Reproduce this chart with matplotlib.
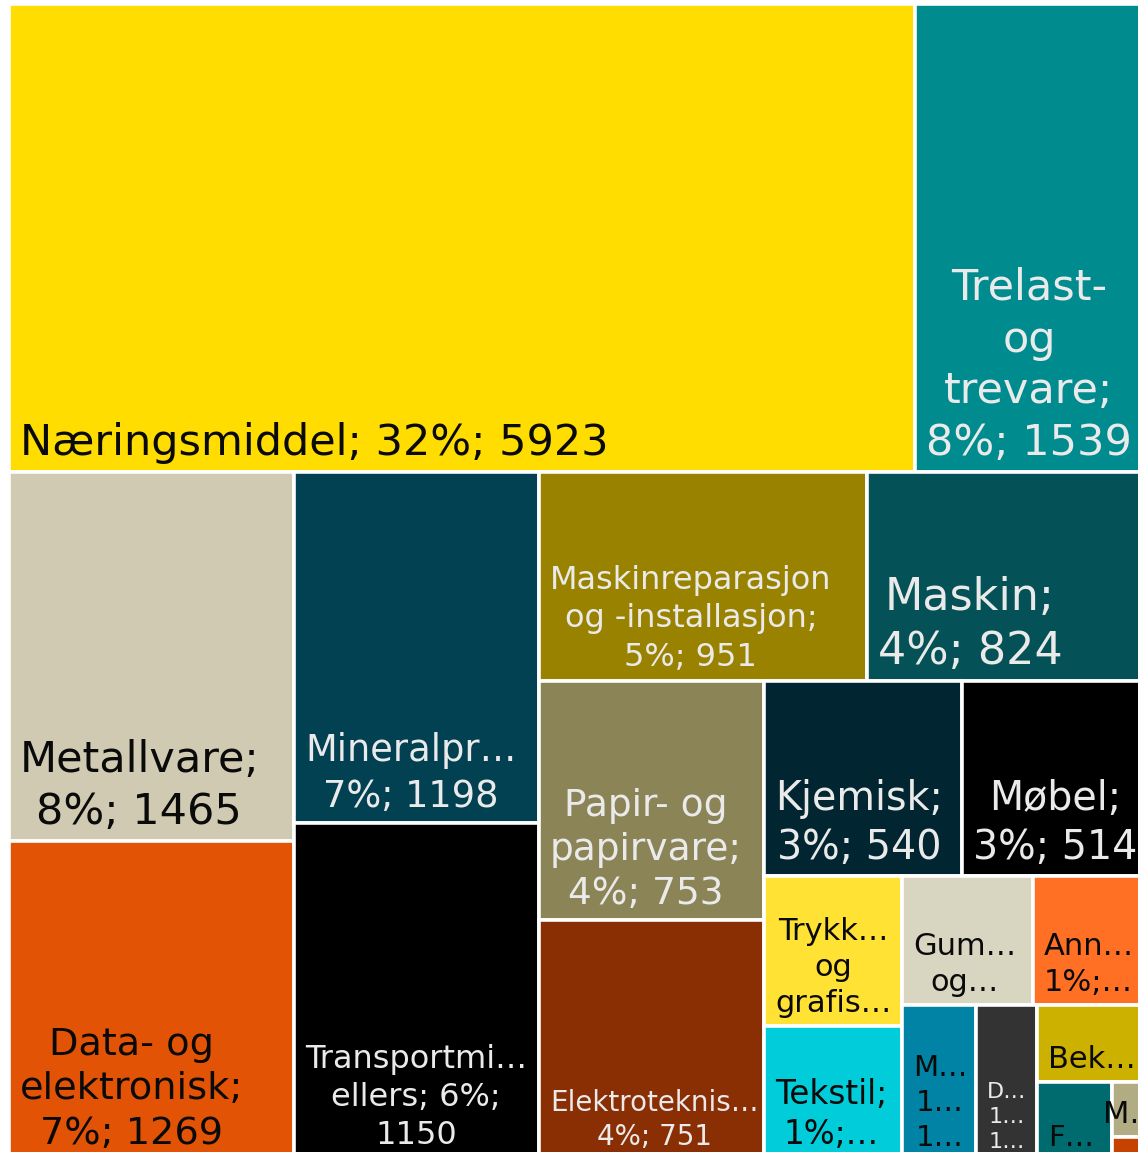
import matplotlib
matplotlib.use("Agg")
import matplotlib.pyplot as plt
from matplotlib.patches import Rectangle

# ---- data ----
categories = ["Næringsmiddel", "Trelast- og trevare", "Metallvare", "Data- og elektronisk",
              "Mineralprodukt", "Transportmidler ellers", "Maskinreparasjon og -installasjon",
              "Maskin", "Papir- og papirvare", "Elektroteknisk", "Kjemisk", "Møbel",
              "Trykkeri og grafisk", "Tekstil", "Gummi og plast", "Annen", "Metaller",
              "Drikkevare", "Bekledning", "Farmasøytisk", "Maritim", "Øvrige"]
values = [5923, 1539, 1465, 1269, 1198, 1150, 951, 824, 753, 751, 540, 514,
          286, 256, 234, 211, 159, 133, 121, 81, 30, 12]
labels = ["Næringsmiddel; 32%; 5923", "Trelast-\nog\ntrevare;\n8%; 1539",
          "Metallvare;\n8%; 1465", "Data- og\nelektronisk;\n7%; 1269",
          "Mineralpr…\n7%; 1198", "Transportmi…\nellers; 6%;\n1150",
          "Maskinreparasjon\nog -installasjon;\n5%; 951", "Maskin;\n4%; 824",
          "Papir- og\npapirvare;\n4%; 753", "Elektroteknis…\n4%; 751",
          "Kjemisk;\n3%; 540", "Møbel;\n3%; 514", "Trykk…\nog\ngrafis…",
          "Tekstil;\n1%;…", "Gum…\nog…", "Ann…\n1%;…", "M…\n1…\n1…",
          "D…\n1…\n1…", "Bek…", "F…", "M…", ""]

# ---- styles ----
colors = ["#FFDD00", "#008B8F", "#CFCAB1", "#E25306", "#024152", "#000000",
          "#998200", "#045257", "#8B8457", "#8A2E03", "#012631", "#000000",
          "#FFE234", "#00CDD9", "#D8D5C1", "#FF6F24", "#0083A5", "#333333",
          "#CCB100", "#006B6F", "#B2AC85", "#C64200"]
dark_text = "#0a0a0a"
light_text = "#eaeaea"
text_colors = [dark_text, light_text, dark_text, dark_text, light_text, light_text,
               light_text, light_text, light_text, light_text, light_text, light_text,
               dark_text, dark_text, dark_text, dark_text, dark_text, light_text,
               dark_text, dark_text, dark_text, dark_text]
font_sizes = [31, 31, 31, 27.5, 26.5, 23, 23, 32, 27, 20, 28.5, 28.5,
              22, 23.5, 22, 22, 21, 16, 22, 21, 22, 10]
group_sizes = [2, 2, 2, 2, 2, 2, 2, 2, 1, 1, 1, 1, 1, 1]

W, H = 1142.0, 1156.0


def layout(vals, groups, x, y, w, h):
    rects = []
    remaining = float(sum(vals))
    i = 0
    for g in groups:
        grp = vals[i:i + g]
        s = float(sum(grp))
        if w >= h:  # vertical strip on the left
            sw = w * s / remaining
            yy = y
            for v in grp:
                hh = h * v / s
                rects.append((x, yy, sw, hh))
                yy += hh
            x += sw
            w -= sw
        else:  # horizontal strip on top
            sh = h * s / remaining
            xx = x
            for v in grp:
                ww = w * v / s
                rects.append((xx, y, ww, sh))
                xx += ww
            y += sh
            h -= sh
        remaining -= s
        i += g
    return rects


rects = layout(values, group_sizes, 0.0, 0.0, W, H)

fig = plt.figure(figsize=(11.38, 11.52), dpi=100)
ax = fig.add_axes([0, 0, 1, 1])
ax.set_xlim(-8.5, -8.5 + 1138)
ax.set_ylim(-3.5 + 1152, -3.5)
ax.axis("off")

for k, (rx, ry, rw, rh) in enumerate(rects):
    ax.add_patch(Rectangle((rx, ry), rw, rh, facecolor=colors[k],
                           edgecolor="white", linewidth=2.6))
    if labels[k]:
        if k == 20:
            tx, ha = rx + rw / 2, "center"
        else:
            tx, ha = rx + 11, "left"
        ax.text(tx, ry + rh - 8, labels[k], ha=ha, va="bottom",
                multialignment="center", fontsize=font_sizes[k],
                color=text_colors[k], family="DejaVu Sans",
                linespacing=1.3, clip_on=True)

fig.savefig("out.png", dpi=100)
